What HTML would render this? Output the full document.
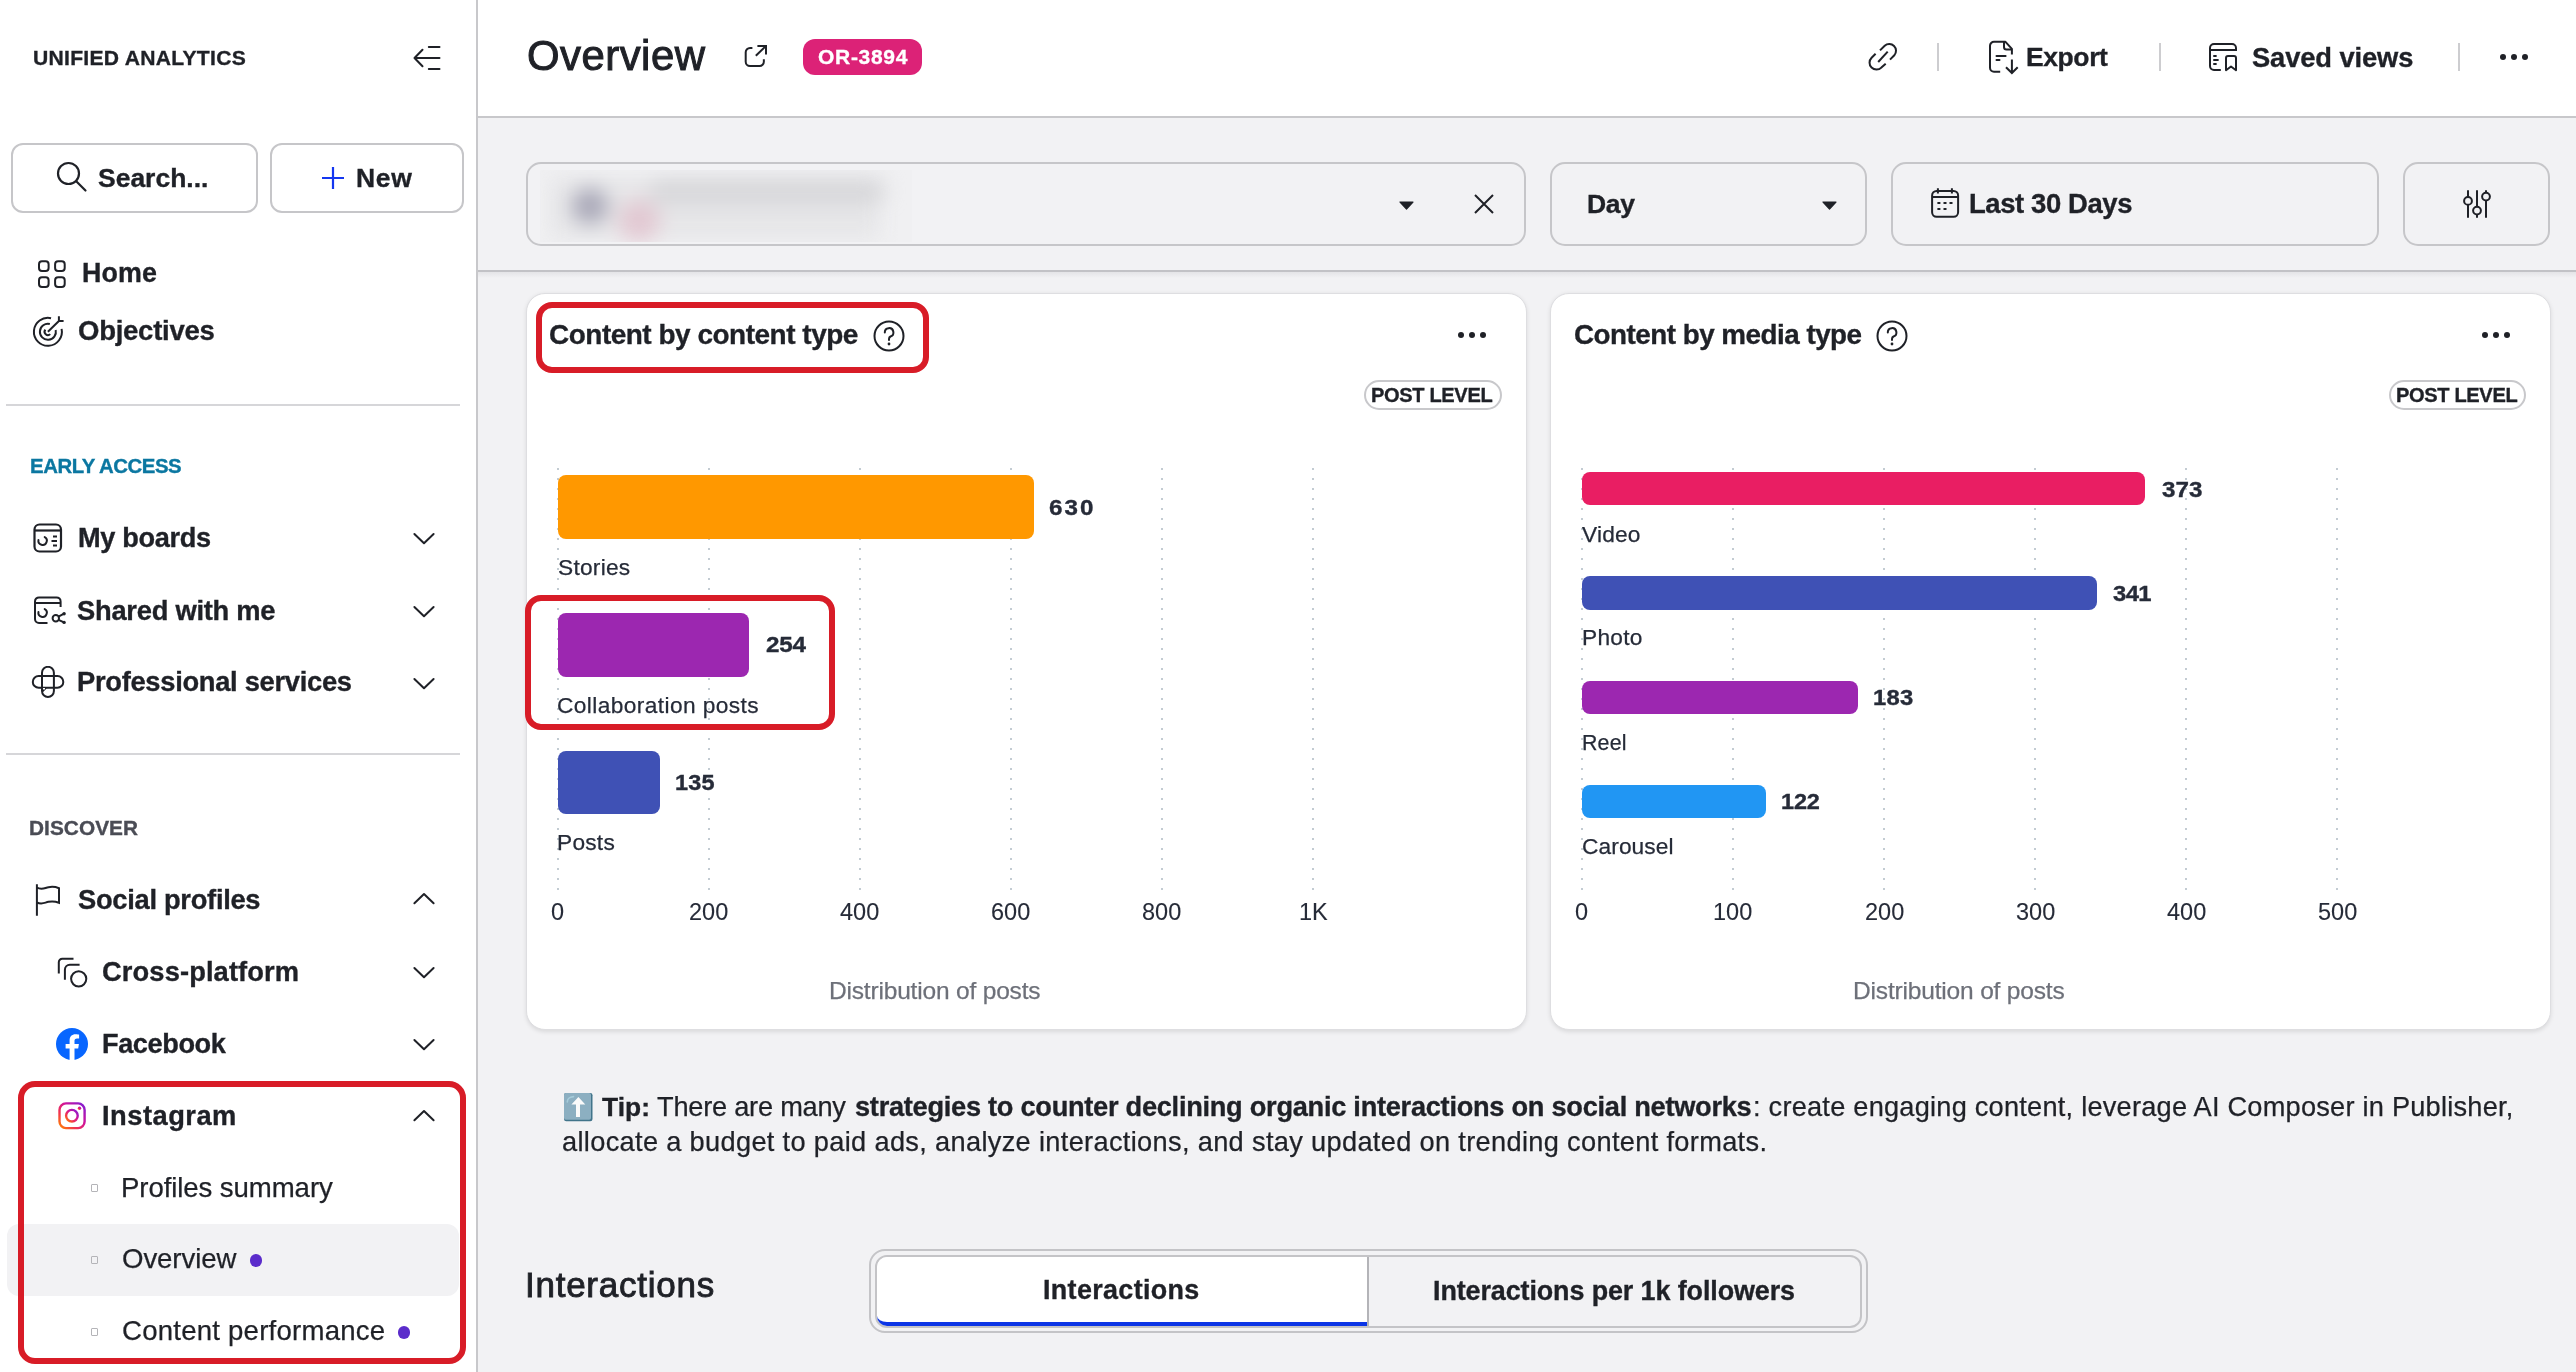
<!DOCTYPE html>
<html><head><meta charset="utf-8"><title>Overview</title>
<style>
html,body{margin:0;padding:0;}
body{width:2576px;height:1372px;overflow:hidden;position:relative;background:#f2f2f4;font-family:"Liberation Sans",sans-serif;}
.a{position:absolute;}
.t{position:absolute;white-space:nowrap;will-change:transform;}
.tip{font-size:27px;line-height:36px;color:#1f2127;}
.tip b{font-weight:700;}

</style></head><body>
<div class="a" style="left:0px;top:0px;width:476px;height:1372px;background:#fff;"></div>
<div class="a" style="left:476px;top:0px;width:2px;height:1372px;background:#c8c8cb;"></div>
<div class="a" style="left:478px;top:0px;width:2098px;height:116px;background:#fff;"></div>
<div class="a" style="left:478px;top:116px;width:2098px;height:2px;background:#c8c8cb;"></div>
<div class="a" style="left:478px;top:272px;width:2098px;height:6px;background:linear-gradient(#e4e4e7,rgba(242,242,244,0));"></div>
<div class="a" style="left:478px;top:270px;width:2098px;height:2px;background:#c2c2c6;"></div>
<div class="t" style="left:32.95px;top:47.20px;font-size:21.10px;line-height:21px;font-weight:700;color:#1f2127;font-family:'Liberation Sans', sans-serif;letter-spacing:0.284px;-webkit-text-stroke:0.35px #1f2127;">UNIFIED ANALYTICS</div>
<svg class="a" style="left:412px;top:44px;" width="30" height="28" viewBox="0 0 30 28" fill="none"><path d="M2.5 14H27.5M2.5 14L10.5 5.8M2.5 14L10.5 22.2M16.8 3H27.5M16.8 25H27.5" stroke="#1f2127" stroke-width="2" stroke-linecap="round" stroke-linejoin="round"/></svg>
<div class="a" style="left:10.5px;top:142.5px;width:247.0px;height:70.5px;border:2px solid #c6c6c9;border-radius:12px;box-sizing:border-box;background:#fff;"></div>
<div class="a" style="left:270px;top:142.5px;width:193.5px;height:70.5px;border:2px solid #c6c6c9;border-radius:12px;box-sizing:border-box;background:#fff;"></div>
<svg class="a" style="left:55px;top:160px;" width="34" height="34" viewBox="0 0 34 34" fill="none"><circle cx="13.5" cy="13.5" r="10.5" stroke="#1f2127" stroke-width="2.2"/><path d="M21.2 21.2L30.5 30.5" stroke="#1f2127" stroke-width="2.2" stroke-linecap="round"/></svg>
<div class="t" style="left:97.75px;top:164.70px;font-size:26.50px;line-height:26px;font-weight:700;color:#1f2127;font-family:'Liberation Sans', sans-serif;letter-spacing:-0.013px;-webkit-text-stroke:0.35px #1f2127;">Search...</div>
<svg class="a" style="left:320px;top:165px;" width="26" height="26" viewBox="0 0 26 26" fill="none"><path d="M13 2V24M2 13H24" stroke="#1437f0" stroke-width="2.2"/></svg>
<div class="t" style="left:356.35px;top:164.70px;font-size:26.50px;line-height:26px;font-weight:700;color:#1f2127;font-family:'Liberation Sans', sans-serif;letter-spacing:0.650px;-webkit-text-stroke:0.35px #1f2127;">New</div>
<svg class="a" style="left:37px;top:259px;" width="30" height="30" viewBox="0 0 30 30" fill="none"><rect x="2" y="2.3" width="9.6" height="9.6" rx="3" stroke="#1f2127" stroke-width="2"/><rect x="2" y="18.3" width="9.6" height="9.6" rx="3" stroke="#1f2127" stroke-width="2"/><rect x="18.1" y="2.3" width="9.6" height="9.6" rx="3" stroke="#1f2127" stroke-width="2"/><rect x="18.1" y="18.3" width="9.6" height="9.6" rx="3" stroke="#1f2127" stroke-width="2"/></svg>
<div class="t" style="left:82.10px;top:260.40px;font-size:26.82px;line-height:27px;font-weight:700;color:#1f2127;font-family:'Liberation Sans', sans-serif;letter-spacing:0.100px;-webkit-text-stroke:0.35px #1f2127;">Home</div>
<svg class="a" style="left:31px;top:315px;" width="35" height="35" viewBox="0 0 35 35" fill="none"><path d="M20.05 3.16A14 14 0 1 0 30.59 13.89" stroke="#1f2127" stroke-width="2"/><path d="M18.84 9.04A8 8 0 1 0 24.69 15" stroke="#1f2127" stroke-width="2"/><path d="M14.37 14.68A3.3 3.3 0 0 0 19.23 19.13" stroke="#1f2127" stroke-width="2"/><path d="M16.9 16.8L27.9 6M27.9 6V1.3M27.9 6H32.6" stroke="#1f2127" stroke-width="2"/></svg>
<div class="t" style="left:77.55px;top:317.20px;font-size:27.50px;line-height:28px;font-weight:700;color:#1f2127;font-family:'Liberation Sans', sans-serif;letter-spacing:-0.256px;-webkit-text-stroke:0.35px #1f2127;">Objectives</div>
<div class="a" style="left:6px;top:404px;width:454px;height:2px;background:#d6d6d9;"></div>
<div class="t" style="left:29.55px;top:456.10px;font-size:20.39px;line-height:20px;font-weight:700;color:#0b77a1;font-family:'Liberation Sans', sans-serif;letter-spacing:-0.450px;-webkit-text-stroke:0.35px #0b77a1;">EARLY ACCESS</div>
<svg class="a" style="left:33px;top:523px;" width="30" height="30" viewBox="0 0 30 30" fill="none"><rect x="1.5" y="1.5" width="26.5" height="27" rx="5" stroke="#1f2127" stroke-width="2.2"/><path d="M1.5 7.5H28" stroke="#1f2127" stroke-width="2.2"/><path d="M11.7 14.06A4.2 4.2 0 1 1 5.46 16.97" stroke="#1f2127" stroke-width="2" stroke-linecap="round"/><path d="M20 13.5H24M18.5 18H24M20 22.5H24" stroke="#1f2127" stroke-width="2"/></svg>
<div class="t" style="left:77.95px;top:523.90px;font-size:27.16px;line-height:27px;font-weight:700;color:#1f2127;font-family:'Liberation Sans', sans-serif;letter-spacing:-0.350px;-webkit-text-stroke:0.35px #1f2127;">My boards</div>
<svg class="a" style="left:412px;top:532.3px;" width="24" height="13" viewBox="0 0 24 13" fill="none"><path d="M2.4 2L12 11.3L21.6 2" stroke="#1f2127" stroke-width="2" stroke-linecap="round" stroke-linejoin="round"/></svg>
<svg class="a" style="left:33px;top:595px;" width="34" height="31" viewBox="0 0 34 31" fill="none"><path d="M14.5 28H6A4 4 0 0 1 2 24V6.4A4 4 0 0 1 6 2.4H23.6A4 4 0 0 1 27.6 6.4V12" stroke="#1f2127" stroke-width="2"/><path d="M2 8H27.6" stroke="#1f2127" stroke-width="2"/><path d="M11.7 14.06A4.2 4.2 0 1 1 5.46 16.97" stroke="#1f2127" stroke-width="2" stroke-linecap="round"/><circle cx="22.8" cy="23.2" r="3.2" stroke="#1f2127" stroke-width="2"/><path d="M25.5 21.6L31 18.7M25.5 24.8L31 27.4" stroke="#1f2127" stroke-width="2"/><circle cx="31.1" cy="18.7" r="1.7" fill="#1f2127"/><circle cx="31.1" cy="27.4" r="1.7" fill="#1f2127"/></svg>
<div class="t" style="left:76.75px;top:596.50px;font-size:27.30px;line-height:27px;font-weight:700;color:#1f2127;font-family:'Liberation Sans', sans-serif;letter-spacing:-0.246px;-webkit-text-stroke:0.35px #1f2127;">Shared with me</div>
<svg class="a" style="left:412px;top:604.7px;" width="24" height="13" viewBox="0 0 24 13" fill="none"><path d="M2.4 2L12 11.3L21.6 2" stroke="#1f2127" stroke-width="2" stroke-linecap="round" stroke-linejoin="round"/></svg>
<svg class="a" style="left:31px;top:666px;" width="34" height="33" viewBox="0 0 34 33" fill="none"><rect x="11" y="0.8" width="11.9" height="30.2" rx="5.95" stroke="#1f2127" stroke-width="2"/><rect x="1.8" y="10" width="30.5" height="11.8" rx="5.9" stroke="#1f2127" stroke-width="2"/><path d="M14.9 21.8L11.4 25.3" stroke="#1f2127" stroke-width="2"/><path d="M12 22.8H14" stroke="#fff" stroke-width="1.6"/></svg>
<div class="t" style="left:76.75px;top:668.00px;font-size:27.30px;line-height:27px;font-weight:700;color:#1f2127;font-family:'Liberation Sans', sans-serif;letter-spacing:-0.285px;-webkit-text-stroke:0.35px #1f2127;">Professional services</div>
<svg class="a" style="left:412px;top:676.8px;" width="24" height="13" viewBox="0 0 24 13" fill="none"><path d="M2.4 2L12 11.3L21.6 2" stroke="#1f2127" stroke-width="2" stroke-linecap="round" stroke-linejoin="round"/></svg>
<div class="a" style="left:6px;top:753px;width:454px;height:2px;background:#d6d6d9;"></div>
<div class="t" style="left:29.30px;top:817.00px;font-size:20.80px;line-height:21px;font-weight:700;color:#4a4c55;font-family:'Liberation Sans', sans-serif;letter-spacing:0.057px;-webkit-text-stroke:0.35px #4a4c55;">DISCOVER</div>
<svg class="a" style="left:34px;top:883px;" width="28" height="35" viewBox="0 0 28 35" fill="none"><path d="M2.9 1.3V32.8M2.9 4.5C7.5 7.5 10.5 5 14.5 4.2C18.5 3.4 21 3.6 25 5.2V19.8C21 18.2 18.5 18 14.5 18.8C10.5 19.6 7.5 22 2.9 19.3" stroke="#1f2127" stroke-width="2"/></svg>
<div class="t" style="left:77.50px;top:885.50px;font-size:27.30px;line-height:27px;font-weight:700;color:#1f2127;font-family:'Liberation Sans', sans-serif;letter-spacing:-0.289px;-webkit-text-stroke:0.35px #1f2127;">Social profiles</div>
<svg class="a" style="left:412px;top:892.3px;" width="24" height="13" viewBox="0 0 24 13" fill="none"><path d="M2.4 11.3L12 2L21.6 11.3" stroke="#1f2127" stroke-width="2" stroke-linecap="round" stroke-linejoin="round"/></svg>
<svg class="a" style="left:56px;top:956px;" width="34" height="34" viewBox="0 0 34 34" fill="none"><path d="M2.8 17.5V6.2A3.5 3.5 0 0 1 6.3 2.7H17.5" stroke="#1f2127" stroke-width="2"/><path d="M8.9 23.7V13.8A5 5 0 0 1 13.9 8.8H23.6" stroke="#1f2127" stroke-width="2"/><circle cx="22.7" cy="22.8" r="7.6" stroke="#1f2127" stroke-width="2"/></svg>
<div class="t" style="left:101.70px;top:958.30px;font-size:27.30px;line-height:27px;font-weight:700;color:#1f2127;font-family:'Liberation Sans', sans-serif;letter-spacing:0.112px;-webkit-text-stroke:0.35px #1f2127;">Cross-platform</div>
<svg class="a" style="left:412px;top:966.2px;" width="24" height="13" viewBox="0 0 24 13" fill="none"><path d="M2.4 2L12 11.3L21.6 2" stroke="#1f2127" stroke-width="2" stroke-linecap="round" stroke-linejoin="round"/></svg>
<svg class="a" style="left:56px;top:1028px;" width="32" height="32" viewBox="0 0 32 32" fill="none"><circle cx="16" cy="16" r="16" fill="#0866ff"/><path d="M22.2 20.6L22.9 16H18.5V13C18.5 11.8 19.1 10.5 21.1 10.5H23.1V6.6C23.1 6.6 21.3 6.3 19.5 6.3C15.9 6.3 13.6 8.5 13.6 12.4V16H9.6V20.6H13.6V32C14.4 32.1 15.2 32.2 16 32.2C16.8 32.2 17.7 32.1 18.5 32V20.6H22.2Z" fill="#fff"/></svg>
<div class="t" style="left:101.70px;top:1030.40px;font-size:27.16px;line-height:27px;font-weight:700;color:#1f2127;font-family:'Liberation Sans', sans-serif;letter-spacing:-0.414px;-webkit-text-stroke:0.35px #1f2127;">Facebook</div>
<svg class="a" style="left:412px;top:1038.3px;" width="24" height="13" viewBox="0 0 24 13" fill="none"><path d="M2.4 2L12 11.3L21.6 2" stroke="#1f2127" stroke-width="2" stroke-linecap="round" stroke-linejoin="round"/></svg>
<svg class="a" style="left:57px;top:1102px" width="30" height="29" viewBox="0 0 30 29" fill="none"><defs><linearGradient id="ig" x1="0" y1="1" x2="1" y2="0"><stop offset="0" stop-color="#ff8500"/><stop offset="0.3" stop-color="#f2344c"/><stop offset="0.6" stop-color="#d0149a"/><stop offset="1" stop-color="#7d1dd6"/></linearGradient></defs><rect x="2.5" y="1.4" width="25.1" height="24.7" rx="6.5" stroke="url(#ig)" stroke-width="2.4"/><circle cx="14.9" cy="13.7" r="5.8" stroke="url(#ig)" stroke-width="2.4"/><circle cx="22.5" cy="6.3" r="1.7" fill="url(#ig)"/></svg>
<div class="t" style="left:101.70px;top:1102.40px;font-size:27.30px;line-height:27px;font-weight:700;color:#1f2127;font-family:'Liberation Sans', sans-serif;letter-spacing:0.487px;-webkit-text-stroke:0.35px #1f2127;">Instagram</div>
<svg class="a" style="left:412px;top:1109.2px;" width="24" height="13" viewBox="0 0 24 13" fill="none"><path d="M2.4 11.3L12 2L21.6 11.3" stroke="#1f2127" stroke-width="2" stroke-linecap="round" stroke-linejoin="round"/></svg>
<div class="a" style="left:6.5px;top:1224.3px;width:452.5px;height:71.40000000000009px;background:#f2f2f4;border-radius:12px;"></div>
<div class="a" style="left:90.5px;top:1184px;width:7.5px;height:8px;border:1.6px solid #b4b4b8;box-sizing:border-box;border-radius:1px;"></div>
<div class="a" style="left:90.5px;top:1256px;width:7.5px;height:8px;border:1.6px solid #b4b4b8;box-sizing:border-box;border-radius:1px;"></div>
<div class="a" style="left:90.5px;top:1328px;width:7.5px;height:8px;border:1.6px solid #b4b4b8;box-sizing:border-box;border-radius:1px;"></div>
<div class="t" style="left:121.20px;top:1173.80px;font-size:27.60px;line-height:28px;font-weight:400;color:#1f2127;font-family:'Liberation Sans', sans-serif;letter-spacing:-0.090px;-webkit-text-stroke:0.25px #1f2127;">Profiles summary</div>
<div class="t" style="left:122.10px;top:1245.10px;font-size:27.60px;line-height:28px;font-weight:400;color:#1f2127;font-family:'Liberation Sans', sans-serif;letter-spacing:-0.086px;-webkit-text-stroke:0.25px #1f2127;">Overview</div>
<div class="a" style="left:249.7px;top:1254px;width:12.5px;height:12.5px;background:#5b2ccb;border-radius:50%;"></div>
<div class="t" style="left:122.10px;top:1316.90px;font-size:27.60px;line-height:28px;font-weight:400;color:#1f2127;font-family:'Liberation Sans', sans-serif;letter-spacing:0.217px;-webkit-text-stroke:0.25px #1f2127;">Content performance</div>
<div class="a" style="left:397.8px;top:1326.2px;width:12.5px;height:12.5px;background:#5b2ccb;border-radius:50%;"></div>
<div class="a" style="left:17.7px;top:1081px;width:448.3px;height:283px;border:6px solid #d81c27;border-radius:17px;box-sizing:border-box;"></div>
<div class="t" style="left:527.10px;top:35.10px;font-size:41.90px;line-height:42px;font-weight:400;color:#1f2127;font-family:'Liberation Sans', sans-serif;letter-spacing:0.479px;-webkit-text-stroke:1.0px #1f2127;">Overview</div>
<svg class="a" style="left:743px;top:44px;" width="26" height="25" viewBox="0 0 26 25" fill="none"><path d="M9.4 4H7A4.3 4.3 0 0 0 2.7 8.3V17.7A4.3 4.3 0 0 0 7 22H16.5A4.3 4.3 0 0 0 20.85 17.7V15.3" stroke="#1f2127" stroke-width="2"/><path d="M14.4 1.9H23V10.4M12.8 11.8L22.5 2.4" stroke="#1f2127" stroke-width="2"/></svg>
<div class="a" style="left:803px;top:39px;width:119px;height:36px;background:#dc2277;border-radius:12px;"></div>
<div class="t" style="left:817.60px;top:45.90px;font-size:21.00px;line-height:21px;font-weight:700;color:#fff;font-family:'Liberation Sans', sans-serif;letter-spacing:0.700px;-webkit-text-stroke:0.35px #fff;">OR-3894</div>
<svg class="a" style="left:1867px;top:41px;" width="32" height="32" viewBox="0 0 32 32" fill="none"><path d="M13 9.4L17.7 4.7A6.8 6.8 0 0 1 27.3 14.3L23 18.6" stroke="#1f2127" stroke-width="2"/><path d="M8.6 12.75L4.6 16.75A6.9 6.9 0 0 0 14.4 26.6L18.7 22.7" stroke="#1f2127" stroke-width="2"/><path d="M11.2 21L20.7 10.6" stroke="#1f2127" stroke-width="2"/></svg>
<div class="a" style="left:1937px;top:43px;width:2px;height:28px;background:#cdcdd0;"></div>
<div class="a" style="left:2159px;top:43px;width:2px;height:28px;background:#cdcdd0;"></div>
<div class="a" style="left:2458px;top:43px;width:2px;height:28px;background:#cdcdd0;"></div>
<svg class="a" style="left:1988px;top:40px;" width="32" height="35" viewBox="0 0 32 35" fill="none"><path d="M12.2 31.8H6A4 4 0 0 1 2 27.8V5.8A4 4 0 0 1 6 1.8H17.5L23.9 8.8V14.5" stroke="#1f2127" stroke-width="2" stroke-linejoin="round"/><path d="M16 1.8V7A2.5 2.5 0 0 0 18.5 9.5H23.9" stroke="#1f2127" stroke-width="2"/><path d="M8.5 16H17.6M8.5 19.9H11.5" stroke="#1f2127" stroke-width="2" stroke-linecap="round"/><path d="M23.9 19.4V32.5M18 27.2L23.9 33L29.7 27.2" stroke="#1f2127" stroke-width="2"/></svg>
<div class="t" style="left:2025.55px;top:44.00px;font-size:26.49px;line-height:26px;font-weight:700;color:#1f2127;font-family:'Liberation Sans', sans-serif;letter-spacing:-0.400px;-webkit-text-stroke:0.35px #1f2127;">Export</div>
<svg class="a" style="left:2208px;top:42px;" width="30" height="30" viewBox="0 0 30 30" fill="none"><path d="M12.8 28H6A4 4 0 0 1 2 24V6A4 4 0 0 1 6 2H24A4 4 0 0 1 28 6V9" stroke="#1f2127" stroke-width="2"/><path d="M2 8H28" stroke="#1f2127" stroke-width="2"/><path d="M6 14H7.9M6 18H9.9M6 22H7.9" stroke="#1f2127" stroke-width="2" stroke-linecap="round"/><path d="M18 28.2V16A2 2 0 0 1 20 14H26A2 2 0 0 1 28 16V28.2L23 24.5Z" stroke="#1f2127" stroke-width="2" stroke-linejoin="round"/></svg>
<div class="t" style="left:2252.35px;top:43.70px;font-size:27.30px;line-height:27px;font-weight:700;color:#1f2127;font-family:'Liberation Sans', sans-serif;letter-spacing:-0.100px;-webkit-text-stroke:0.35px #1f2127;">Saved views</div>
<div class="a" style="left:2500px;top:54px;width:6px;height:6px;background:#1f2127;border-radius:50%;"></div>
<div class="a" style="left:2511px;top:54px;width:6px;height:6px;background:#1f2127;border-radius:50%;"></div>
<div class="a" style="left:2522px;top:54px;width:6px;height:6px;background:#1f2127;border-radius:50%;"></div>
<div class="a" style="left:526px;top:162px;width:1000px;height:84px;border:2px solid #c6c6c9;border-radius:15px;box-sizing:border-box;"></div>
<div class="a" style="left:540px;top:170px;width:372px;height:72px;overflow:hidden;background:#f0f0f2;"><div class="a" style="left:0;top:0;width:372px;height:72px;filter:blur(10px);"><div class="a" style="left:10px;top:8px;width:330px;height:60px;background:#e6e6e8;"></div><div class="a" style="left:110px;top:9px;width:235px;height:24px;background:#d6d6d9;border-radius:10px;"></div><div class="a" style="left:32px;top:18px;width:36px;height:36px;background:#a9a8b8;border-radius:50%;"></div><div class="a" style="left:78px;top:30px;width:42px;height:42px;background:#e2c8d2;border-radius:50%;"></div></div></div>
<svg class="a" style="left:1398.5px;top:200.7px;" width="15" height="9" viewBox="0 0 15 9" fill="none"><path d="M1 1H14L7.5 8Z" fill="#1f2127" stroke="#1f2127" stroke-width="1.2" stroke-linejoin="round"/></svg>
<svg class="a" style="left:1473px;top:192.7px;" width="22" height="22" viewBox="0 0 22 22" fill="none"><path d="M2 2L20 20M20 2L2 20" stroke="#1f2127" stroke-width="2"/></svg>
<div class="a" style="left:1550px;top:162px;width:317px;height:84px;border:2px solid #c6c6c9;border-radius:15px;box-sizing:border-box;"></div>
<div class="t" style="left:1587.35px;top:190.70px;font-size:26.52px;line-height:27px;font-weight:700;color:#1f2127;font-family:'Liberation Sans', sans-serif;letter-spacing:-0.325px;-webkit-text-stroke:0.35px #1f2127;">Day</div>
<svg class="a" style="left:1821.5px;top:200.7px;" width="15" height="9" viewBox="0 0 15 9" fill="none"><path d="M1 1H14L7.5 8Z" fill="#1f2127" stroke="#1f2127" stroke-width="1.2" stroke-linejoin="round"/></svg>
<div class="a" style="left:1891px;top:162px;width:488px;height:84px;border:2px solid #c6c6c9;border-radius:15px;box-sizing:border-box;"></div>
<svg class="a" style="left:1930px;top:187px;" width="30" height="32" viewBox="0 0 30 32" fill="none"><rect x="2.1" y="4" width="26" height="25.8" rx="4.5" stroke="#1f2127" stroke-width="2"/><path d="M2.1 9.9H28.1M7.9 1.2V6.5M21.9 1.2V6.5" stroke="#1f2127" stroke-width="2"/><path d="M7.4 15.9H10.4M13.5 15.9H16.5M19.5 15.9H22.5M7.4 21.9H10.4M13.5 21.9H16.5" stroke="#1f2127" stroke-width="2"/></svg>
<div class="t" style="left:1969.10px;top:190.10px;font-size:27.46px;line-height:27px;font-weight:700;color:#1f2127;font-family:'Liberation Sans', sans-serif;letter-spacing:-0.400px;-webkit-text-stroke:0.35px #1f2127;">Last 30 Days</div>
<div class="a" style="left:2403px;top:162px;width:147px;height:84px;border:2px solid #c6c6c9;border-radius:15px;box-sizing:border-box;"></div>
<svg class="a" style="left:2461px;top:189px;" width="32" height="31" viewBox="0 0 32 31" fill="none"><path d="M7 1.3V8M7 15.8V28.8M16 1.3V17.7M16 25.5V28.8M25 1.3V3.7M25 11.5V28.8" stroke="#1f2127" stroke-width="2"/><circle cx="7" cy="11.9" r="3.9" stroke="#1f2127" stroke-width="2"/><circle cx="16" cy="21.6" r="3.9" stroke="#1f2127" stroke-width="2"/><circle cx="25" cy="7.6" r="3.9" stroke="#1f2127" stroke-width="2"/></svg>
<div class="a" style="left:525.5px;top:292.5px;width:1001.0px;height:737.0px;background:#fff;border:1px solid #dedee1;border-radius:19px;box-sizing:border-box;box-shadow:0 1.5px 4px rgba(0,0,0,0.10);"></div>
<div class="a" style="left:1549.5px;top:292.5px;width:1001.0px;height:737.0px;background:#fff;border:1px solid #dedee1;border-radius:19px;box-sizing:border-box;box-shadow:0 1.5px 4px rgba(0,0,0,0.10);"></div>
<div class="t" style="left:549.15px;top:321.10px;font-size:27.95px;line-height:28px;font-weight:700;color:#1f2127;font-family:'Liberation Sans', sans-serif;letter-spacing:-0.473px;-webkit-text-stroke:0.35px #1f2127;">Content by content type</div>
<svg class="a" style="left:873px;top:319.5px;" width="32" height="32" viewBox="0 0 32 32" fill="none"><circle cx="16" cy="16" r="14.5" stroke="#1f2127" stroke-width="2"/><path d="M11.8 12.5A4.3 4.3 0 1 1 17.5 16.5C16.5 17 16 17.8 16 19V20" stroke="#1f2127" stroke-width="2" stroke-linecap="round"/><circle cx="16" cy="24" r="1.4" fill="#1f2127"/></svg>
<div class="a" style="left:1458px;top:332px;width:6px;height:6px;background:#1f2127;border-radius:50%;"></div>
<div class="a" style="left:1469px;top:332px;width:6px;height:6px;background:#1f2127;border-radius:50%;"></div>
<div class="a" style="left:1480px;top:332px;width:6px;height:6px;background:#1f2127;border-radius:50%;"></div>
<div class="a" style="left:1364px;top:380px;width:138px;height:30px;border:2px solid #c8c8cb;border-radius:15px;box-sizing:border-box;"></div>
<div class="t" style="left:1371.15px;top:385.00px;font-size:20.06px;line-height:20px;font-weight:700;color:#1f2127;font-family:'Liberation Sans', sans-serif;letter-spacing:-0.344px;-webkit-text-stroke:0.35px #1f2127;">POST LEVEL</div>
<div class="a" style="left:557px;top:468px;width:2px;height:422px;background-image:linear-gradient(#c3ccd3 2px,transparent 2px);background-size:2px 10px;"></div>
<div class="a" style="left:708px;top:468px;width:2px;height:422px;background-image:linear-gradient(#c3ccd3 2px,transparent 2px);background-size:2px 10px;"></div>
<div class="a" style="left:859px;top:468px;width:2px;height:422px;background-image:linear-gradient(#c3ccd3 2px,transparent 2px);background-size:2px 10px;"></div>
<div class="a" style="left:1010px;top:468px;width:2px;height:422px;background-image:linear-gradient(#c3ccd3 2px,transparent 2px);background-size:2px 10px;"></div>
<div class="a" style="left:1161px;top:468px;width:2px;height:422px;background-image:linear-gradient(#c3ccd3 2px,transparent 2px);background-size:2px 10px;"></div>
<div class="a" style="left:1312px;top:468px;width:2px;height:422px;background-image:linear-gradient(#c3ccd3 2px,transparent 2px);background-size:2px 10px;"></div>
<div class="a" style="left:557.7px;top:475px;width:476.0px;height:63.5px;background:#ff9800;border-radius:8px;"></div>
<div class="t" style="left:1049.45px;top:496.50px;font-size:22.00px;line-height:22px;font-weight:700;color:#262b38;font-family:'Liberation Sans', sans-serif;letter-spacing:1.877px;-webkit-text-stroke:0.35px #262b38;transform:scaleX(1.1);transform-origin:0 0;">630</div>
<div class="t" style="left:557.75px;top:556.00px;font-size:22.70px;line-height:23px;font-weight:400;color:#262b38;font-family:'Liberation Sans', sans-serif;letter-spacing:0.258px;-webkit-text-stroke:0.25px #262b38;">Stories</div>
<div class="a" style="left:557.7px;top:613px;width:191.79999999999995px;height:63.799999999999955px;background:#9c27b0;border-radius:8px;"></div>
<div class="t" style="left:766.45px;top:634.40px;font-size:22.00px;line-height:22px;font-weight:700;color:#262b38;font-family:'Liberation Sans', sans-serif;letter-spacing:-0.145px;-webkit-text-stroke:0.35px #262b38;transform:scaleX(1.1);transform-origin:0 0;">254</div>
<div class="t" style="left:557.35px;top:694.10px;font-size:22.70px;line-height:23px;font-weight:400;color:#262b38;font-family:'Liberation Sans', sans-serif;letter-spacing:0.408px;-webkit-text-stroke:0.25px #262b38;">Collaboration posts</div>
<div class="a" style="left:557.7px;top:751.2px;width:102.0px;height:63.299999999999955px;background:#3f51b5;border-radius:8px;"></div>
<div class="t" style="left:674.95px;top:773.00px;font-size:21.35px;line-height:21px;font-weight:700;color:#262b38;font-family:'Liberation Sans', sans-serif;letter-spacing:0.182px;-webkit-text-stroke:0.35px #262b38;transform:scaleX(1.1);transform-origin:0 0;">135</div>
<div class="t" style="left:557.35px;top:831.00px;font-size:22.70px;line-height:23px;font-weight:400;color:#262b38;font-family:'Liberation Sans', sans-serif;letter-spacing:0.250px;-webkit-text-stroke:0.25px #262b38;">Posts</div>
<div class="t" style="left:551.45px;top:899.80px;font-size:23.50px;line-height:24px;font-weight:400;color:#262b38;font-family:'Liberation Sans', sans-serif;-webkit-text-stroke:0.1px #262b38;">0</div>
<div class="t" style="left:689.40px;top:899.80px;font-size:23.50px;line-height:24px;font-weight:400;color:#262b38;font-family:'Liberation Sans', sans-serif;-webkit-text-stroke:0.1px #262b38;">200</div>
<div class="t" style="left:840.40px;top:899.80px;font-size:23.50px;line-height:24px;font-weight:400;color:#262b38;font-family:'Liberation Sans', sans-serif;-webkit-text-stroke:0.1px #262b38;">400</div>
<div class="t" style="left:991.40px;top:899.80px;font-size:23.50px;line-height:24px;font-weight:400;color:#262b38;font-family:'Liberation Sans', sans-serif;-webkit-text-stroke:0.1px #262b38;">600</div>
<div class="t" style="left:1142.40px;top:899.80px;font-size:23.50px;line-height:24px;font-weight:400;color:#262b38;font-family:'Liberation Sans', sans-serif;-webkit-text-stroke:0.1px #262b38;">800</div>
<div class="t" style="left:1298.65px;top:899.80px;font-size:23.50px;line-height:24px;font-weight:400;color:#262b38;font-family:'Liberation Sans', sans-serif;-webkit-text-stroke:0.1px #262b38;">1K</div>
<div class="t" style="left:829.20px;top:978.70px;font-size:24.50px;line-height:24px;font-weight:400;color:#6d7079;font-family:'Liberation Sans', sans-serif;letter-spacing:-0.180px;-webkit-text-stroke:0.25px #6d7079;">Distribution of posts</div>
<div class="a" style="left:525px;top:595px;width:310px;height:135px;border:6px solid #d81c27;border-radius:16px;box-sizing:border-box;"></div>
<div class="a" style="left:536px;top:302px;width:393px;height:71px;border:6px solid #d81c27;border-radius:16px;box-sizing:border-box;"></div>
<div class="t" style="left:1574.10px;top:321.10px;font-size:27.81px;line-height:28px;font-weight:700;color:#1f2127;font-family:'Liberation Sans', sans-serif;letter-spacing:-0.502px;-webkit-text-stroke:0.35px #1f2127;">Content by media type</div>
<svg class="a" style="left:1875.5px;top:319.5px;" width="32" height="32" viewBox="0 0 32 32" fill="none"><circle cx="16" cy="16" r="14.5" stroke="#1f2127" stroke-width="2"/><path d="M11.8 12.5A4.3 4.3 0 1 1 17.5 16.5C16.5 17 16 17.8 16 19V20" stroke="#1f2127" stroke-width="2" stroke-linecap="round"/><circle cx="16" cy="24" r="1.4" fill="#1f2127"/></svg>
<div class="a" style="left:2482px;top:332px;width:6px;height:6px;background:#1f2127;border-radius:50%;"></div>
<div class="a" style="left:2493px;top:332px;width:6px;height:6px;background:#1f2127;border-radius:50%;"></div>
<div class="a" style="left:2504px;top:332px;width:6px;height:6px;background:#1f2127;border-radius:50%;"></div>
<div class="a" style="left:2388.5px;top:380px;width:137.5px;height:30px;border:2px solid #c8c8cb;border-radius:15px;box-sizing:border-box;"></div>
<div class="t" style="left:2396.10px;top:385.00px;font-size:20.06px;line-height:20px;font-weight:700;color:#1f2127;font-family:'Liberation Sans', sans-serif;letter-spacing:-0.344px;-webkit-text-stroke:0.35px #1f2127;">POST LEVEL</div>
<div class="a" style="left:1581px;top:468px;width:2px;height:422px;background-image:linear-gradient(#c3ccd3 2px,transparent 2px);background-size:2px 10px;"></div>
<div class="a" style="left:1732px;top:468px;width:2px;height:422px;background-image:linear-gradient(#c3ccd3 2px,transparent 2px);background-size:2px 10px;"></div>
<div class="a" style="left:1883px;top:468px;width:2px;height:422px;background-image:linear-gradient(#c3ccd3 2px,transparent 2px);background-size:2px 10px;"></div>
<div class="a" style="left:2034px;top:468px;width:2px;height:422px;background-image:linear-gradient(#c3ccd3 2px,transparent 2px);background-size:2px 10px;"></div>
<div class="a" style="left:2185px;top:468px;width:2px;height:422px;background-image:linear-gradient(#c3ccd3 2px,transparent 2px);background-size:2px 10px;"></div>
<div class="a" style="left:2336px;top:468px;width:2px;height:422px;background-image:linear-gradient(#c3ccd3 2px,transparent 2px);background-size:2px 10px;"></div>
<div class="a" style="left:1581.8px;top:471.8px;width:563.5000000000002px;height:33.39999999999998px;background:#e91e63;border-radius:8px;"></div>
<div class="t" style="left:2162.00px;top:478.50px;font-size:22.00px;line-height:22px;font-weight:700;color:#262b38;font-family:'Liberation Sans', sans-serif;letter-spacing:0.014px;-webkit-text-stroke:0.35px #262b38;transform:scaleX(1.1);transform-origin:0 0;">373</div>
<div class="t" style="left:1582.25px;top:522.50px;font-size:22.70px;line-height:23px;font-weight:400;color:#262b38;font-family:'Liberation Sans', sans-serif;letter-spacing:0.212px;-webkit-text-stroke:0.25px #262b38;">Video</div>
<div class="a" style="left:1581.8px;top:575.8px;width:515.2px;height:33.90000000000009px;background:#3f51b5;border-radius:8px;"></div>
<div class="t" style="left:2113.05px;top:583.00px;font-size:21.67px;line-height:22px;font-weight:700;color:#262b38;font-family:'Liberation Sans', sans-serif;letter-spacing:-0.555px;-webkit-text-stroke:0.35px #262b38;transform:scaleX(1.1);transform-origin:0 0;">341</div>
<div class="t" style="left:1582.30px;top:626.30px;font-size:22.70px;line-height:23px;font-weight:400;color:#262b38;font-family:'Liberation Sans', sans-serif;letter-spacing:0.287px;-webkit-text-stroke:0.25px #262b38;">Photo</div>
<div class="a" style="left:1581.8px;top:680.5px;width:276.20000000000005px;height:33.799999999999955px;background:#9c27b0;border-radius:8px;"></div>
<div class="t" style="left:1873.15px;top:687.00px;font-size:21.67px;line-height:22px;font-weight:700;color:#262b38;font-family:'Liberation Sans', sans-serif;letter-spacing:0.264px;-webkit-text-stroke:0.35px #262b38;transform:scaleX(1.1);transform-origin:0 0;">183</div>
<div class="t" style="left:1582.30px;top:732.60px;font-size:21.37px;line-height:21px;font-weight:400;color:#262b38;font-family:'Liberation Sans', sans-serif;letter-spacing:0.183px;-webkit-text-stroke:0.25px #262b38;">Reel</div>
<div class="a" style="left:1581.8px;top:784.5px;width:184.20000000000005px;height:33.799999999999955px;background:#2196f3;border-radius:8px;"></div>
<div class="t" style="left:1781.15px;top:792.00px;font-size:21.35px;line-height:21px;font-weight:700;color:#262b38;font-family:'Liberation Sans', sans-serif;letter-spacing:-0.159px;-webkit-text-stroke:0.35px #262b38;transform:scaleX(1.1);transform-origin:0 0;">122</div>
<div class="t" style="left:1581.55px;top:835.20px;font-size:22.70px;line-height:23px;font-weight:400;color:#262b38;font-family:'Liberation Sans', sans-serif;letter-spacing:0.107px;-webkit-text-stroke:0.25px #262b38;">Carousel</div>
<div class="t" style="left:1575.45px;top:899.80px;font-size:23.50px;line-height:24px;font-weight:400;color:#262b38;font-family:'Liberation Sans', sans-serif;-webkit-text-stroke:0.1px #262b38;">0</div>
<div class="t" style="left:1713.45px;top:899.80px;font-size:23.50px;line-height:24px;font-weight:400;color:#262b38;font-family:'Liberation Sans', sans-serif;-webkit-text-stroke:0.1px #262b38;">100</div>
<div class="t" style="left:1864.50px;top:899.80px;font-size:23.50px;line-height:24px;font-weight:400;color:#262b38;font-family:'Liberation Sans', sans-serif;-webkit-text-stroke:0.1px #262b38;">200</div>
<div class="t" style="left:2015.55px;top:899.80px;font-size:23.50px;line-height:24px;font-weight:400;color:#262b38;font-family:'Liberation Sans', sans-serif;-webkit-text-stroke:0.1px #262b38;">300</div>
<div class="t" style="left:2166.60px;top:899.80px;font-size:23.50px;line-height:24px;font-weight:400;color:#262b38;font-family:'Liberation Sans', sans-serif;-webkit-text-stroke:0.1px #262b38;">400</div>
<div class="t" style="left:2317.65px;top:899.80px;font-size:23.50px;line-height:24px;font-weight:400;color:#262b38;font-family:'Liberation Sans', sans-serif;-webkit-text-stroke:0.1px #262b38;">500</div>
<div class="t" style="left:1853.20px;top:978.70px;font-size:24.50px;line-height:24px;font-weight:400;color:#6d7079;font-family:'Liberation Sans', sans-serif;letter-spacing:-0.170px;-webkit-text-stroke:0.25px #6d7079;">Distribution of posts</div>
<svg class="a" style="left:563px;top:1092px;" width="31" height="31" viewBox="0 0 31 31" fill="none"><rect x="1" y="1" width="28.5" height="28.3" rx="2.2" fill="#41748a"/><rect x="1" y="1" width="27" height="26.8" rx="1.8" fill="#8cafc1"/><path d="M4.3 10C4.5 6.5 6 5.2 10.5 4.6" stroke="#a6ccda" stroke-width="1.6" stroke-linecap="round"/><path d="M15.4 4.9L8.4 12.6H13V25H17V12.6H22.3Z" fill="#fafafa"/></svg>
<div class="t" style="left:601.80px;top:1094.30px;font-size:26.39px;line-height:26px;font-weight:700;color:#1f2127;font-family:'Liberation Sans', sans-serif;letter-spacing:0.033px;-webkit-text-stroke:0.35px #1f2127;">Tip:</div>
<div class="t" style="left:657.40px;top:1093.30px;font-size:27.20px;line-height:27px;font-weight:400;color:#1f2127;font-family:'Liberation Sans', sans-serif;letter-spacing:-0.227px;-webkit-text-stroke:0.25px #1f2127;">There are many</div>
<div class="t" style="left:855.04px;top:1093.30px;font-size:27.20px;line-height:27px;font-weight:700;color:#1f2127;font-family:'Liberation Sans', sans-serif;letter-spacing:-0.269px;-webkit-text-stroke:0.35px #1f2127;">strategies to counter declining organic interactions on social networks</div>
<div class="t" style="left:1752.70px;top:1093.30px;font-size:27.20px;line-height:27px;font-weight:400;color:#1f2127;font-family:'Liberation Sans', sans-serif;letter-spacing:0.229px;-webkit-text-stroke:0.25px #1f2127;">: create engaging content, leverage AI Composer in Publisher,</div>
<div class="t" style="left:561.75px;top:1127.80px;font-size:27.20px;line-height:27px;font-weight:400;color:#1f2127;font-family:'Liberation Sans', sans-serif;letter-spacing:0.331px;-webkit-text-stroke:0.25px #1f2127;">allocate a budget to paid ads, analyze interactions, and stay updated on trending content formats.</div>
<div class="t" style="left:524.60px;top:1266.60px;font-size:35.00px;line-height:35px;font-weight:400;color:#1f2127;font-family:'Liberation Sans', sans-serif;letter-spacing:0.745px;-webkit-text-stroke:0.9px #1f2127;">Interactions</div>
<div class="a" style="left:868.5px;top:1249px;width:999.0px;height:84px;border:2px solid #c4c4c7;border-radius:16px;box-sizing:border-box;"></div>
<div class="a" style="left:874.5px;top:1255px;width:987.0px;height:72.5px;border:2px solid #c4c4c7;border-radius:12px;box-sizing:border-box;"></div>
<div class="a" style="left:876.5px;top:1257px;width:490.5px;height:68.5px;background:#fff;border-radius:10px 0 0 10px;border-bottom:4.5px solid #0b35e6;box-sizing:border-box;"></div>
<div class="a" style="left:1367px;top:1257px;width:2px;height:68.5px;background:#b4b4b8;"></div>
<div class="t" style="left:1042.55px;top:1276.50px;font-size:26.90px;line-height:27px;font-weight:700;color:#1f2127;font-family:'Liberation Sans', sans-serif;letter-spacing:0.355px;-webkit-text-stroke:0.35px #1f2127;">Interactions</div>
<div class="t" style="left:1432.70px;top:1277.50px;font-size:26.90px;line-height:27px;font-weight:700;color:#1f2127;font-family:'Liberation Sans', sans-serif;letter-spacing:-0.093px;-webkit-text-stroke:0.35px #1f2127;">Interactions per 1k followers</div>
</body></html>
